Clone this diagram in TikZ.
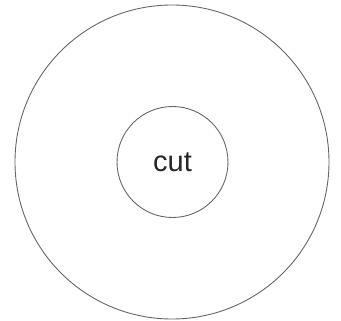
\documentclass[tikz,border=0pt]{standalone}
\usepackage{fontspec}
\setmainfont{Liberation Sans}
\begin{document}
\begin{tikzpicture}[x=1pt,y=-1pt,
  ring/.style={circle,draw=black!60,line width=0.9pt,inner sep=0pt}]
\useasboundingbox (0,0) rectangle (341,321);
\node[ring,minimum size=314pt] (outer) at (172,162) {};
\node[ring,minimum size=111pt,font=\fontsize{29}{32}\selectfont,text=black!85] (inner) at (172.5,162) {cut};
\end{tikzpicture}
\end{document}
